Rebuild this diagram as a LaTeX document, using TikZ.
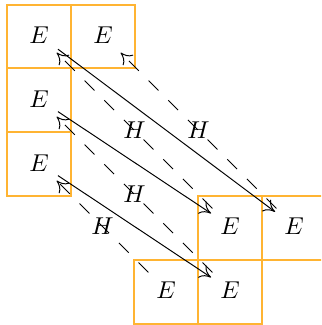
\documentclass[tikz,border=0pt]{standalone}
\usetikzlibrary{arrows.meta}
\definecolor{boxorange}{RGB}{255,180,50}
\begin{document}
\begin{tikzpicture}[x=0.41pt,y=-0.41pt,
  ebox/.style={draw=boxorange, line width=0.5pt},
  enode/.style={inner sep=3.6pt},
  sarrow/.style={-{To[length=4.5pt,width=6pt]}},
  harrow/.style={-{To[length=4.5pt,width=6pt]}, dash pattern=on 5.7pt off 5.7pt},
  lbl/.style={inner sep=1pt}]
\useasboundingbox (0,0) rectangle (321,325);
\begin{scope}
\clip (0,0) rectangle (321,325);
\draw[ebox] (7,5) rectangle (71,68);
\draw[ebox] (71,5) rectangle (135,68);
\draw[ebox] (7,68) rectangle (71,132);
\draw[ebox] (7,132) rectangle (71,196);
\draw[ebox] (198,196) rectangle (262,260);
\draw[ebox] (262,196) rectangle (327,260);
\draw[ebox] (134,260) rectangle (198,324);
\draw[ebox] (198,260) rectangle (262,324);
\end{scope}
\node[enode] (A) at (39,35) {$E$};
\node[enode] (B) at (103,35) {$E$};
\node[enode] (C) at (39,99) {$E$};
\node[enode] (D) at (39,163) {$E$};
\node[enode] (R1) at (230,226) {$E$};
\node[enode] (R2) at (294,226) {$E$};
\node[enode] (R3) at (166,290) {$E$};
\node[enode] (R4) at (230,290) {$E$};
\draw[sarrow] (A) -- (R2);
\draw[sarrow] (C) -- (R1);
\draw[sarrow] (D) -- (R4);
\draw[harrow] (R1) -- node[lbl] {$H$} (A);
\draw[harrow] (R2) -- node[lbl] {$H$} (B);
\draw[harrow] (R4) -- node[lbl] {$H$} (C);
\draw[harrow] (R3) -- node[lbl] {$H$} (D);
\end{tikzpicture}
\end{document}
